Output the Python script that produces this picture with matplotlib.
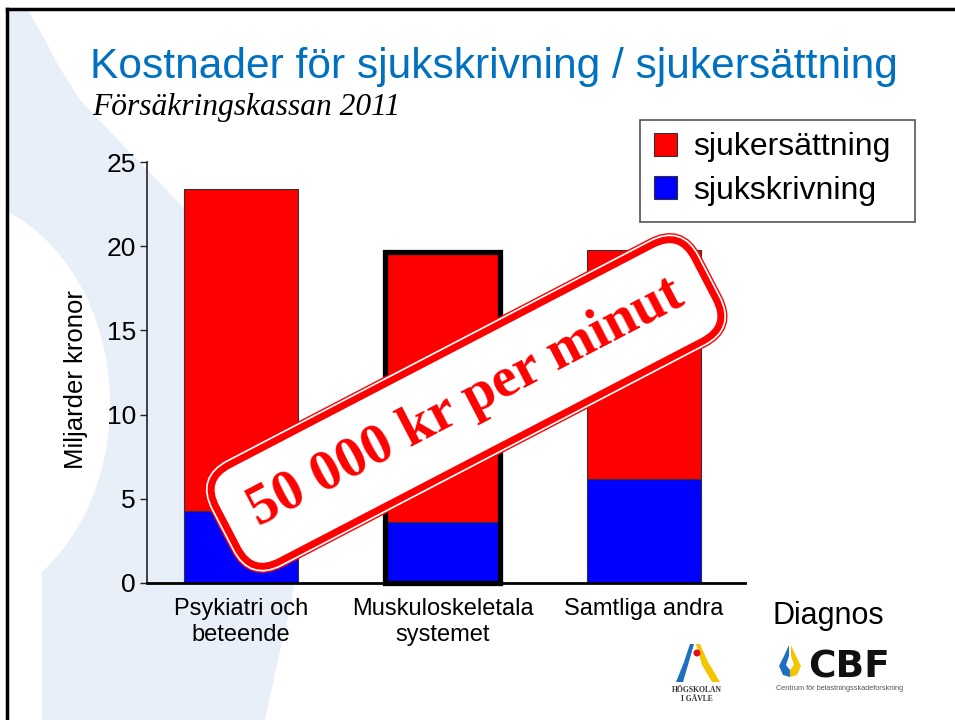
# Kostnader för sjukskrivning / sjukersättning, Försäkringskassan 2011

import numpy as np
import matplotlib
matplotlib.use('Agg')
import matplotlib.pyplot as plt
from matplotlib.patches import Polygon, Ellipse, Circle, Patch, Rectangle
import matplotlib.patheffects as pe

# Data (miljarder kronor)
categories = ['Psykiatri och\nbeteende', 'Muskuloskeletala\nsystemet', 'Samtliga andra']
sjukskrivning = [4.3, 3.6, 6.2]
totalt = [23.4, 19.65, 19.8]
sjukersattning = [t - s for t, s in zip(totalt, sjukskrivning)]
yticks = [0, 5, 10, 15, 20, 25]
markerad = 1  # bar with the thick black frame

sans = ['Liberation Sans', 'DejaVu Sans']
serif = ['Liberation Serif', 'DejaVu Serif']
plt.rcParams['font.family'] = sans

W, H = 955, 720
fig = plt.figure(figsize=(W / 100, H / 100), dpi=100)

# background layer in pixel coordinates (slide decoration, logos)
bg = fig.add_axes([0, 0, 1, 1])
bg.set_xlim(0, W)
bg.set_ylim(H, 0)
bg.axis('off')

swoosh = [(8, 10), (28, 10), (45, 40), (58, 65), (80, 100), (118, 140), (152, 175),
          (200, 225), (245, 290), (280, 370), (300, 460), (300, 540), (292, 600),
          (278, 660), (265, 720), (42, 720), (42, 580), (8, 300)]
bg.add_patch(Polygon(swoosh, closed=True, fc='#E8EFF8', ec='none'))
bg.add_patch(Ellipse((-60, 404), 340, 420, fc='white', ec='none'))

# slide frame (top and left only)
bg.plot([7, W], [9, 9], color='black', lw=2.5)
bg.plot([7, 7], [9, H], color='black', lw=2.5)

# legend frame
bg.add_patch(Rectangle((640, 120), 275, 102, fc='white', ec='#555555', lw=1.2, zorder=1))

# Högskolan i Gävle logo (rough)
bg.add_patch(Polygon([(690, 644), (694, 644), (688, 665), (683, 682), (676, 682), (684, 662)],
                     closed=True, fc='#1F6FC0', ec='none'))
bg.add_patch(Polygon([(696, 644), (700, 644), (708, 662), (720, 682), (712, 682), (702, 665)],
                     closed=True, fc='#F2C500', ec='none'))
bg.add_patch(Circle((697, 653), 3.5, fc='#E0101E', ec='none'))
bg.text(697, 690, 'HÖGSKOLAN', fontsize=5.5, fontweight='bold', family=serif,
        ha='center', va='center', color='#333333')
bg.text(697, 699, 'I GÄVLE', fontsize=5.5, fontweight='bold', family=serif,
        ha='center', va='center', color='#333333')

# CBF logo (rough)
bg.add_patch(Polygon([(789, 645), (784, 656), (779, 666), (783, 675), (790, 677), (790, 670),
                      (786, 665), (789, 656)], closed=True, fc='#1F6FC0', ec='none'))
bg.add_patch(Polygon([(791, 645), (796, 656), (801, 666), (797, 675), (790, 677), (790, 670),
                      (794, 665), (791, 656)], closed=True, fc='#F2C500', ec='none'))
bg.text(808, 667, 'CBF', fontsize=27, fontweight='bold', family=['DejaVu Sans'],
        ha='left', va='center', color='#111111')
bg.text(840, 689, 'Centrum för belastningsskadeforskning', fontsize=5.3,
        ha='center', va='center', color='#555555')

# main chart
ax = fig.add_axes([147 / W, 1 - 583 / H, (745 - 147) / W, (583 - 162) / H])
ax.set_facecolor('none')
x = np.arange(len(categories))
bw = 0.566
ax.bar(x, sjukskrivning, width=bw, color='#0000FF', edgecolor='#333333', lw=0.8,
       label='sjukskrivning', zorder=2)
ax.bar(x, sjukersattning, width=bw, bottom=sjukskrivning, color='#FF0000',
       edgecolor='#333333', lw=0.8, label='sjukersättning', zorder=2)
ax.bar(x[markerad], totalt[markerad], width=bw, fill=False, edgecolor='black', lw=3.8,
       zorder=3, clip_on=False)

ax.set_xlim(-0.4665, 2.501)
ax.set_ylim(0, 25)
ax.set_yticks(yticks)
ax.set_xticks(x, categories)
ax.tick_params(axis='y', direction='out', length=5, width=1, pad=3, labelsize=19,
               color='#222222')
ax.tick_params(axis='x', length=0, pad=11, labelsize=17)
for s in ['top', 'right']:
    ax.spines[s].set_visible(False)
ax.spines['left'].set_linewidth(1.2)
ax.spines['left'].set_color('#222222')
ax.spines['bottom'].set_linewidth(2)

fig.text(76 / W, 1 - 380 / H, 'Miljarder kronor', rotation=90, fontsize=18.5,
         ha='center', va='center')

# legend: sjukersättning first
hs = [Patch(fc='#FF0000', ec='#333333', lw=0.8), Patch(fc='#0000FF', ec='#333333', lw=0.8)]
leg = fig.legend(hs, ['sjukersättning', 'sjukskrivning'], loc='upper left',
                 bbox_to_anchor=(648 / W, 1 - 126 / H), fontsize=23, frameon=False,
                 handlelength=0.72, handleheight=0.72, handletextpad=0.5,
                 labelspacing=0.42, borderpad=0.2, borderaxespad=0)

# titles
fig.text(90 / W, 1 - 78 / H, 'Kostnader för sjukskrivning / sjukersättning',
         fontsize=30.6, color='#0070C0', ha='left', va='baseline')
fig.text(92 / W, 1 - 115 / H, 'Försäkringskassan 2011', fontsize=22.7, style='italic',
         family=serif, ha='left', va='baseline')
fig.text(772 / W, 1 - 624 / H, 'Diagnos', fontsize=22, ha='left', va='baseline')

# stamp
st = fig.text(466 / W, 1 - 403 / H, '50 000 kr per minut', fontsize=41, fontweight='bold',
              family=serif, color='#FF0000', rotation=27.5, rotation_mode='anchor',
              ha='center', va='center', zorder=10,
              bbox=dict(boxstyle='round,pad=0.5,rounding_size=0.55', fc='white',
                        ec='#FF0000', lw=5))
st.get_bbox_patch().set_path_effects([
    pe.Stroke(linewidth=9.5, foreground='#FF0000'),
    pe.Stroke(linewidth=7.5, foreground='white'),
    pe.Normal()])

fig.savefig('out.png', dpi=100)
